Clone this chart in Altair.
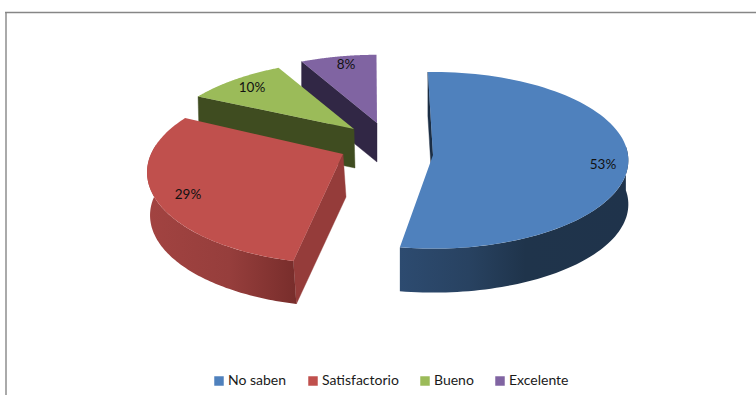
import math
import altair as alt

# Survey answers and their shares
categories = ["No saben", "Satisfactorio", "Bueno", "Excelente"]
shares = [53, 29, 10, 8]
top_colors = ["#4F81BD", "#C0504D", "#9BBB59", "#8064A2"]
cut_colors = ["#1B2E45", "#953C3A", "#3F4C20", "#312745"]

# Exploded 3D pie: apex of each slice, tilt of the disc, perspective strength
apex_x = [433, 343, 354, 377]
apex_y = [155, 154, 129, 123]
radius_x = [195, 192, 192, 195]
radius_y = [88, 88, 88, 88]
persp = [0.06, 0.20, 0.29, 0.29]
thick = [44, 43, 39, 39]
side_shift = [0, 3, 1, 0]
turn = [-1.6, 1.2, -0.7, -0.2]

# Rim shading, left to right across each visible rim
rim_ramps = {
    0: [(0.0, "#2D4B70"), (0.30, "#284261"), (0.55, "#1F344B"), (1.0, "#1F334B")],
    1: [(0.0, "#A24341"), (0.55, "#963E3C"), (1.0, "#782D2B")],
}
label_x = [603, 188, 252, 346]
label_y = [165, 195, 88, 65]


def rim_point(i, deg):
    t = math.radians(deg)
    s = 1 / (1 + persp[i] * math.cos(t))
    return (apex_x[i] + radius_x[i] * math.sin(t) * s,
            apex_y[i] - radius_y[i] * math.cos(t) * s)


def feature(points, part, width=0.0):
    ring = [list(p) for p in points] + [list(points[0])]
    return {
        "type": "Feature",
        "geometry": {"type": "Polygon", "coordinates": [ring]},
        "properties": {"part": part, "sw": width},
    }


domain = categories + cut_colors
palette = top_colors + cut_colors
color_scale = alt.Scale(domain=domain, range=palette)
projection = dict(type="identity", scale=1, translate=[0, 0], reflectY=False)
legend = alt.Legend(
    values=categories,
    title=None,
    orient="none",
    legendX=212,
    legendY=374,
    direction="horizontal",
    columns=4,
    symbolType="square",
    symbolSize=90,
    symbolStrokeWidth=0,
    labelFont="Lato",
    labelFontSize=14,
    labelColor="#1a1a1a",
    labelOffset=2,
    columnPadding=19,
    padding=0,
)


def flat_faces(features):
    return (
        alt.Chart(alt.Data(values=features))
        .mark_geoshape()
        .encode(
            color=alt.Color("properties.part:N", scale=color_scale, legend=legend),
            stroke=alt.Stroke("properties.part:N", scale=color_scale, legend=None),
            strokeWidth=alt.StrokeWidth("properties.sw:Q", scale=None),
        )
        .project(**projection)
    )


def shaded_rim(feat, stops):
    fill = alt.Gradient(
        gradient="linear", x1=0, x2=1, y1=0, y2=0,
        stops=[alt.GradientStop(offset=o, color=c) for o, c in stops],
    )
    return (
        alt.Chart(alt.Data(values=[feat]))
        .mark_geoshape(fill=fill, stroke=None, strokeWidth=0)
        .encode(detail="properties.part:N")
        .project(**projection)
    )


starts = []
running = 0.0
for v in shares:
    starts.append(running)
    running += v * 3.6

pie_layers = []
# Painted back to front: far slices first
for i in reversed(range(len(shares))):
    t0 = starts[i] + turn[i]
    t1 = t0 + shares[i] * 3.6
    dx, d = side_shift[i], thick[i]
    apex = (apex_x[i], apex_y[i])
    first = rim_point(i, t0)

    # Cut face along the slice's leading edge
    cut = feature(
        [first, apex, (apex[0] + dx, apex[1] + d), (first[0] + dx, first[1] + d)],
        cut_colors[i], 0.4)
    pie_layers.append(flat_faces([cut]))

    # Outer rim: only the part that faces the viewer
    if i in rim_ramps:
        steps = [t0 + (t1 - t0) * k / 120 for k in range(121)]
        visible = [a for a in steps if math.cos(math.radians(a)) <= 0.12]
        upper = [rim_point(i, a) for a in visible]
        lower = [(x + dx, y + d) for x, y in reversed(upper)]
        pie_layers.append(shaded_rim(feature(upper + lower, f"rim{i}"), rim_ramps[i]))

    # Top face
    arc = [rim_point(i, t0 + (t1 - t0) * k / 90) for k in range(91)]
    pie_layers.append(flat_faces([feature([apex] + arc, categories[i])]))

label_rows = [
    {"lon": x, "lat": y, "text": f"{v}%"}
    for x, y, v in zip(label_x, label_y, shares)
]
labels = (
    alt.Chart(alt.Data(values=label_rows))
    .mark_text(font="Lato", fontSize=13.5, color="#111111", align="center", baseline="middle")
    .encode(longitude="lon:Q", latitude="lat:Q", text="text:N")
    .project(**projection)
)

# Frame of the chart area: only its top and left edges show
frame_top = alt.Chart(alt.Data(values=[{"a": 1}])).mark_rule(color="#868686", strokeWidth=1.4).encode(
    x=alt.value(5), x2=alt.value(756), y=alt.value(12.5)
)
frame_left = alt.Chart(alt.Data(values=[{"a": 1}])).mark_rule(color="#868686", strokeWidth=1.4).encode(
    x=alt.value(6), y=alt.value(12), y2=alt.value(395)
)

chart = (
    alt.layer(frame_top, frame_left, *pie_layers, labels)
    .properties(width=756, height=395, padding=0, autosize=alt.AutoSizeParams(type="none"), background="white")
    .configure_view(stroke=None)
)

chart.save("out.html", embed_options={"renderer": "svg", "actions": False})
